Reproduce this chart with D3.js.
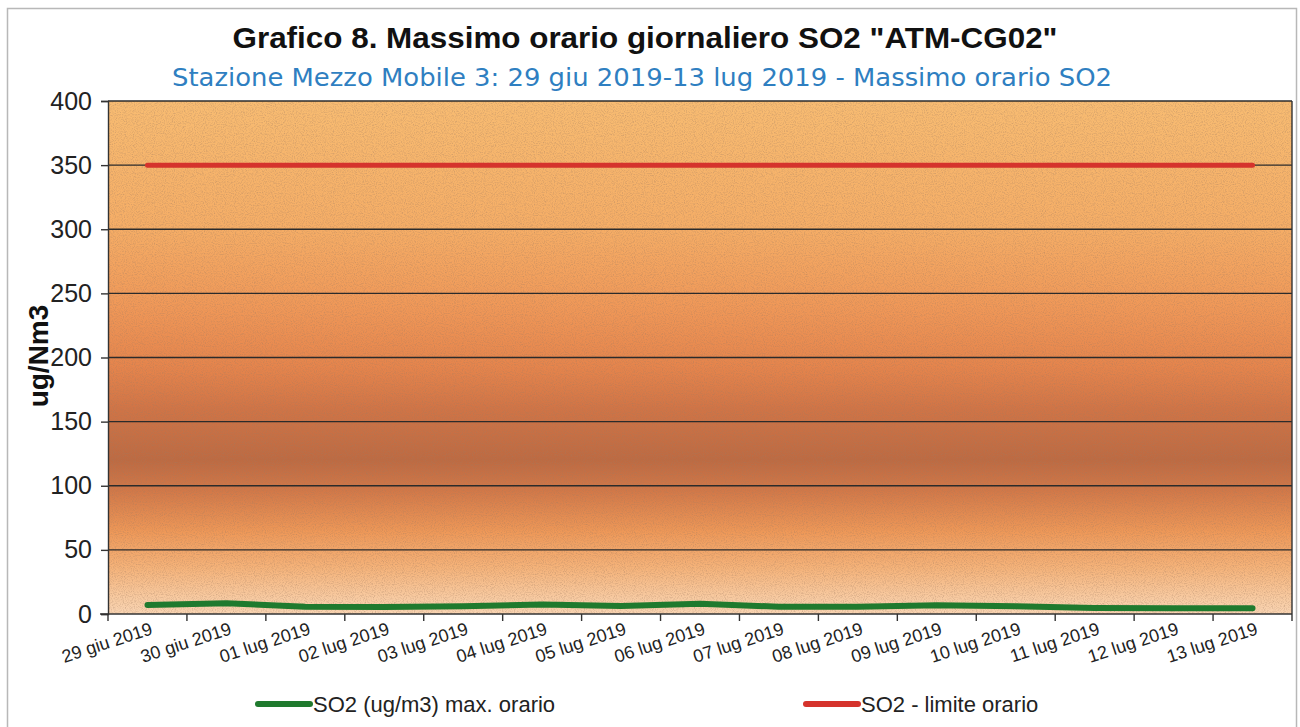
<!DOCTYPE html>
<html>
<head>
<meta charset="utf-8">
<script src="https://cdn.jsdelivr.net/npm/d3@7"></script>
<style>
  html, body { margin: 0; padding: 0; background: #fff; }
  svg { display: block; }
</style>
</head>
<body>
<svg id="chart" width="1300" height="727"></svg>
<script>
// Daily dates (category axis)
const dates = [
  "29 giu 2019", "30 giu 2019", "01 lug 2019", "02 lug 2019", "03 lug 2019",
  "04 lug 2019", "05 lug 2019", "06 lug 2019", "07 lug 2019", "08 lug 2019",
  "09 lug 2019", "10 lug 2019", "11 lug 2019", "12 lug 2019", "13 lug 2019"
];
// Daily maximum hourly SO2 (ug/m3)
const so2Max = [7, 8.3, 5.7, 5.5, 6, 7.5, 6.2, 8, 5.7, 5.7, 6.8, 6, 4.7, 4.4, 4.4];
// Hourly limit value
const so2Limit = [350, 350, 350, 350, 350, 350, 350, 350, 350, 350, 350, 350, 350, 350, 350];
// Y axis ticks
const yTicks = [0, 50, 100, 150, 200, 250, 300, 350, 400];

const titleText = "Grafico 8. Massimo orario giornaliero SO2 \"ATM-CG02\"";
const subtitleText = "Stazione Mezzo Mobile 3: 29 giu 2019-13 lug 2019 - Massimo orario SO2";
const legendItems = [
  { label: "SO2 (ug/m3) max. orario", color: "#1f7a2e", x: 258 },
  { label: "SO2 - limite orario", color: "#d5332c", x: 806 }
];

const svg = d3.select("#chart");
const plot = { left: 108, right: 1292, top: 101, bottom: 614 };
const FONT = "Liberation Sans, Arial, Helvetica, sans-serif";

// Outer frame
svg.append("rect")
  .attr("x", 7.5).attr("y", 8.5)
  .attr("width", 1289).attr("height", 730)
  .attr("fill", "#fff").attr("stroke", "#b8b8b8").attr("stroke-width", 1.5);

const x = d3.scaleBand().domain(dates).range([plot.left, plot.right]).padding(0);
const y = d3.scaleLinear().domain([0, 400]).range([plot.bottom, plot.top]);

const defs = svg.append("defs");

// Vertical background gradient of the plot area
const grad = defs.append("linearGradient")
  .attr("id", "bg").attr("x1", 0).attr("y1", 0).attr("x2", 0).attr("y2", 1);
[
  [0.00, "#f8bc72"],
  [0.25, "#f5ad66"],
  [0.40, "#f09858"],
  [0.52, "#e5844c"],
  [0.60, "#d07446"],
  [0.70, "#bd6a42"],
  [0.76, "#d27848"],
  [0.84, "#ee9858"],
  [0.91, "#f5b37a"],
  [0.97, "#f8cba2"],
  [1.00, "#f9d4b2"]
].forEach(([o, c]) => grad.append("stop").attr("offset", o).attr("stop-color", c));

// Grain texture
const f = defs.append("filter").attr("id", "grain")
  .attr("x", 0).attr("y", 0).attr("width", "100%").attr("height", "100%");
f.append("feTurbulence").attr("type", "fractalNoise").attr("baseFrequency", 0.9)
  .attr("numOctaves", 2).attr("seed", 3).attr("result", "noise");
f.append("feColorMatrix").attr("in", "noise").attr("type", "matrix")
  .attr("values", "0 0 0 0 0.35  0 0 0 0 0.2  0 0 0 0 0.12  0 0 0 -2.2 1.25");

svg.append("rect")
  .attr("x", plot.left).attr("y", plot.top)
  .attr("width", plot.right - plot.left).attr("height", plot.bottom - plot.top)
  .attr("fill", "url(#bg)");
svg.append("rect")
  .attr("x", plot.left).attr("y", plot.top)
  .attr("width", plot.right - plot.left).attr("height", plot.bottom - plot.top)
  .attr("filter", "url(#grain)").attr("opacity", 0.4);

// Horizontal gridlines
svg.append("g").selectAll("line")
  .data(yTicks.filter(d => d > 0))
  .join("line")
  .attr("x1", plot.left).attr("x2", plot.right)
  .attr("y1", d => y(d)).attr("y2", d => y(d))
  .attr("stroke", "#2b2b2b").attr("stroke-width", 1.4);

// Y axis
const yAxis = svg.append("g")
  .attr("transform", `translate(${plot.left},0)`)
  .call(d3.axisLeft(y).tickValues(yTicks).tickSize(7).tickPadding(9));
yAxis.select(".domain").attr("stroke", "#333").attr("stroke-width", 1.4);
yAxis.selectAll(".tick line").attr("stroke", "#333").attr("stroke-width", 1.4);
yAxis.selectAll("text")
  .attr("font-family", FONT)
  .attr("font-size", 25).attr("fill", "#222");

// Right border
svg.append("line")
  .attr("x1", plot.right).attr("x2", plot.right)
  .attr("y1", plot.top).attr("y2", plot.bottom)
  .attr("stroke", "#333").attr("stroke-width", 1.4);

// X axis: ticks on band boundaries, labels at band centres
const xAxisG = svg.append("g").attr("transform", `translate(0,${plot.bottom})`);
xAxisG.append("line")
  .attr("x1", plot.left - 8).attr("x2", plot.right)
  .attr("stroke", "#333").attr("stroke-width", 1.6);
const bounds = dates.map(d => x(d)).concat([x(dates[dates.length - 1]) + x.bandwidth()]);
xAxisG.selectAll("line.tk")
  .data(bounds)
  .join("line").attr("class", "tk")
  .attr("x1", d => d).attr("x2", d => d)
  .attr("y1", 0).attr("y2", 7)
  .attr("stroke", "#333").attr("stroke-width", 1.4);
xAxisG.selectAll("text")
  .data(dates)
  .join("text")
  .attr("transform", d => `translate(${x(d) + x.bandwidth() / 2 + 2},${7}) rotate(-18)`)
  .attr("text-anchor", "end")
  .attr("dy", "0.75em")
  .attr("font-family", FONT)
  .attr("font-size", 18).attr("fill", "#222")
  .text(d => d);

// Series lines
const line = d3.line()
  .x((d, i) => x(dates[i]) + x.bandwidth() / 2)
  .y(d => y(d))
  .curve(d3.curveLinear);

svg.append("path")
  .datum(so2Limit)
  .attr("d", line)
  .attr("fill", "none").attr("stroke", "#d5332c")
  .attr("stroke-width", 5).attr("stroke-linecap", "round");

svg.append("path")
  .datum(so2Max)
  .attr("d", line)
  .attr("fill", "none").attr("stroke", "#1f7a2e")
  .attr("stroke-width", 6).attr("stroke-linecap", "round")
  .attr("stroke-linejoin", "round");

// Y axis title
svg.append("text")
  .attr("transform", `translate(48,${356}) rotate(-90)`)
  .attr("text-anchor", "middle")
  .attr("font-family", FONT)
  .attr("font-weight", "bold").attr("font-size", 28).attr("fill", "#111")
  .text("ug/Nm3");

// Titles
svg.append("text")
  .attr("x", 645).attr("y", 48)
  .attr("text-anchor", "middle")
  .attr("font-family", FONT)
  .attr("font-weight", "bold").attr("font-size", 30).attr("fill", "#111")
  .attr("textLength", 825).attr("lengthAdjust", "spacingAndGlyphs")
  .text(titleText);

svg.append("text")
  .attr("x", 642).attr("y", 86)
  .attr("text-anchor", "middle")
  .attr("font-family", "DejaVu Sans, Verdana, sans-serif")
  .attr("font-size", 25).attr("fill", "#2f7fc1")
  .attr("textLength", 940).attr("lengthAdjust", "spacingAndGlyphs")
  .text(subtitleText);

// Legend
const lg = svg.append("g").selectAll("g")
  .data(legendItems)
  .join("g")
  .attr("transform", d => `translate(${d.x},704)`);
lg.append("line")
  .attr("x1", 0).attr("x2", 52)
  .attr("stroke", d => d.color).attr("stroke-width", 6).attr("stroke-linecap", "round");
lg.append("text")
  .attr("x", 55).attr("dy", "0.35em")
  .attr("font-family", FONT)
  .attr("font-size", 22).attr("fill", "#222")
  .text(d => d.label);
</script>
</body>
</html>
